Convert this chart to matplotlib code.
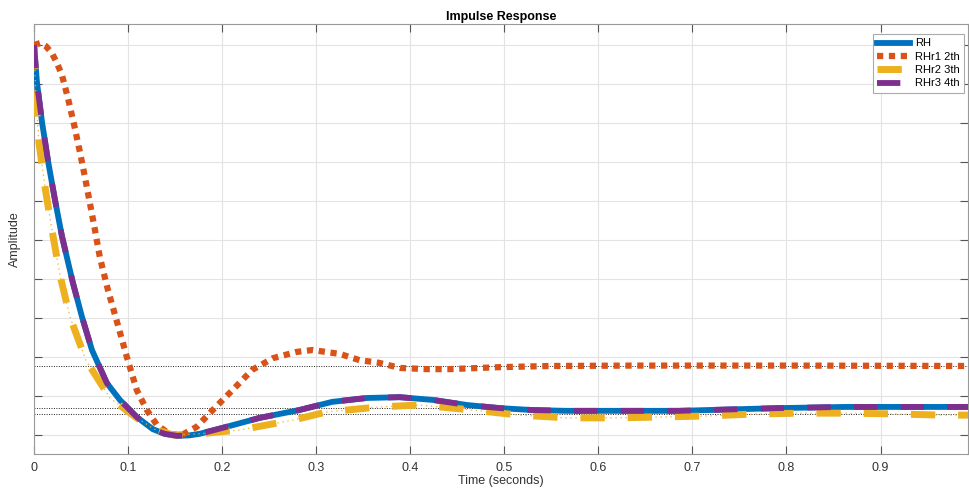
import numpy as np
import matplotlib as mpl
mpl.use('Agg')
import matplotlib.pyplot as plt

plt.rcParams['font.family'] = ['Liberation Sans', 'DejaVu Sans']

# RH (full order)
t_rh = [0, 0.0032, 0.0085, 0.0149, 0.0223, 0.0297, 0.0361, 0.0414, 0.051, 0.0616, 0.0775,
        0.0913, 0.1093, 0.1263, 0.139, 0.152, 0.165, 0.176, 0.2, 0.24, 0.282, 0.317, 0.354,
        0.389, 0.424, 0.46, 0.495, 0.53, 0.566, 0.636, 0.686, 0.792, 0.863, 0.933, 0.993]
y_rh = [1.0, 0.903, 0.803, 0.703, 0.603, 0.51, 0.444, 0.39, 0.303, 0.218, 0.133,
        0.09, 0.046, 0.015, 0.003, -0.002, -0.001, 0.003, 0.018, 0.044, 0.064, 0.085, 0.095,
        0.097, 0.09, 0.077, 0.069, 0.064, 0.062, 0.062, 0.062, 0.069, 0.072, 0.072, 0.072]

# RHr1 2nd order
t_r1 = [0, 0.0064, 0.0127, 0.0191, 0.0244, 0.0297, 0.0361, 0.0425, 0.0488, 0.0541, 0.0594,
        0.0648, 0.07, 0.0786, 0.0892, 0.0987, 0.1093, 0.12, 0.1306, 0.1444, 0.157, 0.173,
        0.19, 0.211, 0.232, 0.254, 0.279, 0.296, 0.325, 0.346, 0.367, 0.389, 0.417, 0.442,
        0.495, 0.548, 0.636, 0.707, 0.813, 0.993]
y_r1 = [1.0, 1.005, 0.997, 0.979, 0.954, 0.923, 0.864, 0.797, 0.726, 0.662, 0.595,
        0.526, 0.456, 0.372, 0.282, 0.2, 0.115, 0.064, 0.026, 0.002, 0.0, 0.021,
        0.064, 0.115, 0.167, 0.197, 0.213, 0.218, 0.208, 0.192, 0.185, 0.172, 0.169, 0.169,
        0.174, 0.177, 0.178, 0.178, 0.178, 0.177]

# RHr2 3rd order
t_r2 = [0, 0.002, 0.0053, 0.0117, 0.0191, 0.0276, 0.0382, 0.0552, 0.0807, 0.109, 0.128,
        0.148, 0.176, 0.219, 0.275, 0.311, 0.367, 0.41, 0.466, 0.516, 0.566, 0.619, 0.665,
        0.718, 0.767, 0.816, 0.866, 0.916, 0.965, 0.993]
y_r2 = [1.0, 0.869, 0.749, 0.636, 0.526, 0.41, 0.303, 0.192, 0.095, 0.044, 0.015,
        0.0, 0.003, 0.013, 0.038, 0.059, 0.072, 0.077, 0.064, 0.051, 0.044, 0.044, 0.046,
        0.049, 0.054, 0.056, 0.056, 0.054, 0.051, 0.051]

# RHr3 4th order
t_r3 = [0, 0.0032, 0.0085, 0.0149, 0.0223, 0.0297, 0.0361, 0.0414, 0.051, 0.0616, 0.0775,
        0.0913, 0.1093, 0.1263, 0.139, 0.152, 0.165, 0.176, 0.2, 0.24, 0.282, 0.317, 0.354,
        0.389, 0.424, 0.46, 0.495, 0.53, 0.566, 0.636, 0.686, 0.792, 0.863, 0.933, 0.993]
y_r3 = [1.0, 0.903, 0.803, 0.703, 0.603, 0.51, 0.444, 0.39, 0.303, 0.218, 0.133,
        0.09, 0.046, 0.015, 0.003, -0.002, -0.001, 0.003, 0.018, 0.044, 0.064, 0.085, 0.095,
        0.097, 0.09, 0.077, 0.069, 0.064, 0.062, 0.062, 0.062, 0.069, 0.072, 0.072, 0.072]

# steady state levels
ss = [0.178, 0.069, 0.054]

labels = ['RH', 'RHr1 2th', 'RHr2 3th', 'RHr3 4th']
colors = ['#0072BD', '#D95319', '#EDB120', '#7E2F8E']

fig = plt.figure(figsize=(9.69, 4.88), dpi=100)
ax = fig.add_axes([34/969, 34/488, 934/969, 430/488])

for v in ss:
    ax.axhline(v, color='#222222', lw=0.7, ls=(0, (1, 1.5)), zorder=1)

ax.plot(t_rh, y_rh, color=colors[0], lw=4.2, label=labels[0], zorder=3)
ax.plot(t_r1, y_r1, color=colors[1], lw=4.5, ls=(0, (1, 0.9)), label=labels[1],
        zorder=3, dash_capstyle='butt')
ax.plot(t_r2, y_r2, color=colors[2], lw=0.9, ls=(0, (1, 3)), zorder=3)
ax.plot(t_r2, y_r2, color=colors[2], lw=5, ls=(0, (3.5, 3.3)), label=labels[2], zorder=3)
ax.plot(t_r3, y_r3, color=colors[3], lw=4.2, ls=(0, (4, 4)), label=labels[3], zorder=4)

ax.set_xlim(0, 0.993)
ax.set_ylim(-0.0487, 1.054)
ax.set_xticks(np.arange(0, 1.0, 0.1))
ax.set_xticklabels(['0', '0.1', '0.2', '0.3', '0.4', '0.5', '0.6', '0.7', '0.8', '0.9'])
ax.set_yticks(np.arange(0, 1.01, 0.1))
ax.set_yticklabels([])
ax.tick_params(direction='in', length=6, width=0.8, color='#555555', labelcolor='#333333',
               labelsize=9, top=True, right=True, pad=5.5)
ax.grid(True, color='#e3e3e3', lw=0.8)
ax.set_axisbelow(True)
for s in ax.spines.values():
    s.set_color('#999999')
    s.set_linewidth(0.8)

ax.set_title('Impulse Response', fontsize=9, fontweight='bold', pad=3)
ax.set_xlabel('Time (seconds)', fontsize=9, color='#333333', labelpad=1)
ax.set_ylabel('Amplitude', fontsize=9, color='#333333', labelpad=4)

leg = ax.legend(loc='upper right', bbox_to_anchor=(0.9957, 0.9767), fontsize=8,
                handlelength=3.0, framealpha=1, edgecolor='#aaaaaa', fancybox=False,
                borderaxespad=0, labelspacing=0.3, borderpad=0.4, handletextpad=0.4)
leg.get_frame().set_linewidth(0.8)

fig.savefig('out.png', dpi=100)
